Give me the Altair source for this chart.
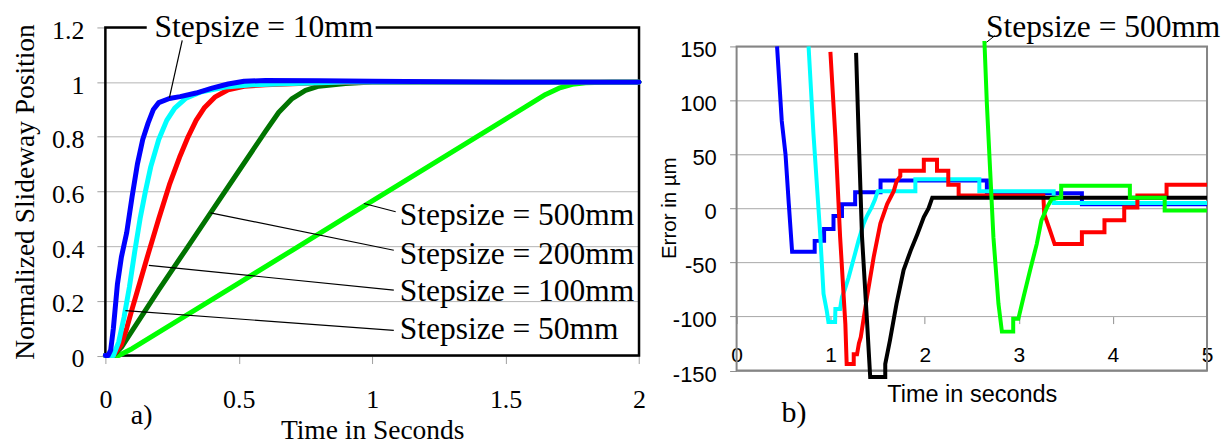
import altair as alt
import pandas as pd

SERIF = "Liberation Serif"
SANS = "Liberation Sans"

# ---------------- panel a) normalized slideway position ----------------
a_t_10 = [0, 0.01, 0.02, 0.03, 0.045, 0.06, 0.08, 0.1, 0.12, 0.14, 0.16, 0.18, 0.2, 0.24, 0.28, 0.34, 0.4, 0.46, 0.52, 0.6, 0.8, 1.0, 1.5, 2.0]
a_v_10 = [0, 0.0, 0.02, 0.1, 0.26, 0.36, 0.45, 0.58, 0.70, 0.79, 0.85, 0.90, 0.925, 0.94, 0.947, 0.96, 0.978, 0.993, 1.003, 1.006, 1.005, 1.003, 1.0, 1.0]
a_t_50 = [0, 0.03, 0.05, 0.07, 0.09, 0.11, 0.13, 0.15, 0.17, 0.2, 0.23, 0.26, 0.3, 0.36, 0.45, 0.55, 0.7, 0.9, 2.0]
a_v_50 = [0, 0.0, 0.05, 0.14, 0.25, 0.38, 0.5, 0.6, 0.69, 0.79, 0.86, 0.905, 0.94, 0.965, 0.982, 0.99, 0.995, 1.0, 1.0]
a_t_100 = [0, 0.03, 0.06, 0.08, 0.1, 0.13, 0.16, 0.2, 0.24, 0.28, 0.31, 0.34, 0.37, 0.41, 0.46, 0.52, 0.6, 0.8, 1.0, 2.0]
a_v_100 = [0, 0.0, 0.04, 0.1, 0.17, 0.27, 0.37, 0.5, 0.625, 0.73, 0.8, 0.86, 0.905, 0.945, 0.972, 0.985, 0.99, 0.998, 1.0, 1.0]
a_t_200 = [0, 0.03, 0.06, 0.1, 0.2, 0.3, 0.4, 0.5, 0.6, 0.65, 0.7, 0.75, 0.8, 0.9, 1.0, 2.0]
a_v_200 = [0, 0.0, 0.03, 0.09, 0.24, 0.385, 0.53, 0.675, 0.82, 0.89, 0.94, 0.97, 0.985, 0.995, 1.0, 1.0]
a_t_500 = [0, 0.05, 0.1, 0.3, 0.5, 0.7, 0.9, 1.1, 1.3, 1.5, 1.6, 1.65, 1.7, 1.75, 1.8, 1.9, 2.0]
a_v_500 = [0, 0.0, 0.025, 0.145, 0.265, 0.385, 0.505, 0.625, 0.745, 0.865, 0.925, 0.955, 0.978, 0.992, 0.998, 1.0, 1.0]

a_x_ticks = [0, 0.5, 1, 1.5, 2]
a_y_ticks = [0, 0.2, 0.4, 0.6, 0.8, 1, 1.2]

a_labels = ["Stepsize = 500mm", "Stepsize = 200mm", "Stepsize = 100mm", "Stepsize = 50mm"]
a_label_t = [1.1035, 1.1035, 1.1035, 1.1035]
a_label_v = [0.476, 0.336, 0.200, 0.062]
# pointer lines: from curve point to label
a_ptr_t1 = [0.969, 0.394, 0.163, 0.075, 0.288]
a_ptr_v1 = [0.556, 0.522, 0.330, 0.164, 1.153]
a_ptr_t2 = [1.088, 1.081, 1.081, 1.081, 0.240]
a_ptr_v2 = [0.526, 0.385, 0.239, 0.092, 0.943]

a_top_label = "Stepsize = 10mm"
a_top_t = 0.594
a_top_v = 1.165

# ---------------- panel b) error ----------------
b_t_10 = [0.43, 0.48, 0.52, 0.555, 0.59, 0.83, 0.83, 0.93, 0.93, 1.03, 1.03, 1.12, 1.12, 1.26, 1.26, 1.53, 1.53, 2.66, 2.66, 3.67, 3.67, 5.0]
b_e_10 = [150, 81, 50, 4, -40, -40, -30, -30, -19, -19, -7, -7, 4, 4, 15, 15, 26, 26, 14, 14, 4, 4]
b_t_50 = [0.765, 0.817, 0.888, 0.924, 0.959, 0.976, 1.047, 1.05, 1.1, 1.12, 1.15, 1.19, 1.24, 1.295, 1.35, 1.385, 1.435, 1.47, 1.5, 1.9, 1.9, 2.58, 2.58, 3.37, 3.37, 5.0]
b_e_50 = [150, 69, -23, -79, -95, -105, -105, -93, -93, -82, -75, -64, -48, -30, -14, -7, 1, 8, 16, 16, 27, 27, 16, 16, 5, 5]
b_t_100 = [0.997, 1.05, 1.10, 1.156, 1.17, 1.245, 1.245, 1.28, 1.30, 1.32, 1.386, 1.457, 1.528, 1.6, 1.67, 1.70, 1.74, 1.74, 1.99, 1.99, 2.13, 2.13, 2.25, 2.25, 2.36, 2.36, 3.26, 3.27, 3.33, 3.38, 3.67, 3.67, 3.91, 3.91, 4.12, 4.12, 4.26, 4.26, 4.57, 4.57, 5.0]
b_e_100 = [145, 66, -26, -107, -144, -144, -135, -135, -125, -119, -82, -45, -14, 4, 16, 25, 30, 35, 35, 45, 45, 35, 35, 22, 22, 12, 12, -5, -20, -33, -33, -22, -22, -11, -11, 1, 1, 12, 12, 22, 22]
b_t_200 = [1.27, 1.298, 1.333, 1.386, 1.42, 1.58, 1.58, 1.63, 1.70, 1.775, 1.85, 1.92, 1.99, 2.04, 2.08, 5.0]
b_e_200 = [144, 66, -26, -104, -156, -156, -144, -122, -88, -57, -39, -24, -8, 0, 10, 10]
b_t_500 = [2.634, 2.66, 2.695, 2.73, 2.783, 2.82, 2.94, 2.94, 2.995, 3.05, 3.12, 3.19, 3.24, 3.3, 3.35, 3.45, 3.45, 4.18, 4.18, 4.55, 4.55, 5.0]
b_e_500 = [155, 97, 35, -27, -88, -114, -114, -102, -102, -82, -57, -33, -11, 1, 9, 10, 21, 21, 10, 10, -2, -2]

b_x_ticks = [0, 1, 2, 3, 4, 5]
b_y_ticks = [-150, -100, -50, 0, 50, 100, 150]

b_label = "Stepsize = 500mm"
b_label_t = 3.896
b_label_e = 158.5
b_ptr = [2.746, 160.0, 2.657, 153.9]


def line_df(ts, vs):
    return pd.DataFrame({"t": ts, "v": vs, "i": list(range(len(ts)))})


# ---------------- build panel a ----------------
AW, AH = 534.3, 328.5
ax = alt.X("t:Q", scale=alt.Scale(domain=[0, 2], nice=False, zero=False),
           axis=alt.Axis(values=a_x_ticks, format="~g", grid=False, domain=False,
                         tickColor="#a0a0a0", tickSize=8, labelFont=SERIF, labelFontSize=26,
                         labelBaseline="alphabetic", labelPadding=44, labelFlush=False,
                         title="Time in Seconds", titleFont=SERIF, titleFontSize=27.5,
                         titleFontWeight="normal", titleBaseline="alphabetic",
                         titleAlign="center", titleX=AW / 2, titleY=83.3))
ay = alt.Y("v:Q", scale=alt.Scale(domain=[0, 1.2], nice=False, zero=False),
           axis=alt.Axis(values=a_y_ticks, format="~g", grid=True, gridColor="#b4b4b4",
                         domain=False, tickColor="#a0a0a0", tickSize=8.5, labelFont=SERIF,
                         labelFontSize=26, labelPadding=13, labelOffset=3,
                         title="Normalized Slideway Position", titleFont=SERIF,
                         titleFontSize=27.5, titleFontWeight="normal",
                         titleBaseline="alphabetic", titleAlign="center", titleAngle=270,
                         titleX=-72, titleY=AH / 2))

a_frame = alt.Chart(pd.DataFrame({"t": [0], "t2": [2], "v": [0], "v2": [1.2]})).mark_rect(
    fillOpacity=0, stroke="black", strokeWidth=2.5).encode(
    x=ax, x2="t2:Q", y=ay, y2="v2:Q")

a_series = [
    (a_t_500, a_v_500, "#00ff00"),
    (a_t_200, a_v_200, "#007400"),
    (a_t_100, a_v_100, "#ff0000"),
    (a_t_50, a_v_50, "#00ffff"),
    (a_t_10, a_v_10, "#0000ff"),
]
a_lines = [
    alt.Chart(line_df(ts, vs)).mark_line(color=c, strokeWidth=5, strokeCap="round",
                                         strokeJoin="round").encode(
        x=ax, y=ay, order="i:Q")
    for ts, vs, c in a_series
]

a_ptr = alt.Chart(pd.DataFrame({"t": a_ptr_t1, "v": a_ptr_v1, "t2": a_ptr_t2, "v2": a_ptr_v2})).mark_rule(
    color="black", strokeWidth=1.2).encode(x=ax, y=ay, x2="t2:Q", y2="v2:Q")

a_gap = alt.Chart(pd.DataFrame({"t": [0.155], "t2": [1.013], "v": [1.2]})).mark_rule(
    color="white", strokeWidth=6).encode(x=ax, x2="t2:Q", y=ay)

a_text = alt.Chart(pd.DataFrame({"t": a_label_t, "v": a_label_v, "label": a_labels})).mark_text(
    font=SERIF, fontSize=31.5, align="left", baseline="alphabetic", color="black").encode(
    x=ax, y=ay, text="label:N")

a_top = alt.Chart(pd.DataFrame({"t": [a_top_t], "v": [a_top_v], "label": [a_top_label]})).mark_text(
    font=SERIF, fontSize=31.5, align="center", baseline="alphabetic", color="black").encode(
    x=ax, y=ay, text="label:N")

a_tag = alt.Chart(pd.DataFrame({"t": [0.095], "v": [-0.252], "label": ["a)"]})).mark_text(
    font=SERIF, fontSize=28, align="left", baseline="alphabetic", color="black").encode(
    x=ax, y=ay, text="label:N")

left = alt.layer(a_frame, *a_lines, a_ptr, a_gap, a_text, a_top, a_tag).properties(
    width=AW, height=AH)

# ---------------- build panel b ----------------
BW, BH = 471, 343.5
bx = alt.X("t:Q", scale=alt.Scale(domain=[0, 5], nice=False, zero=False),
           axis=alt.Axis(values=b_x_ticks, format="d", grid=False, domain=False, offset=-54,
                         tickColor="#909090", tickSize=7, labelFont=SANS, labelFontSize=21,
                         labelBaseline="alphabetic", labelPadding=38.3, labelFlush=False,
                         title="Time in seconds", titleFont=SANS, titleFontSize=23.5,
                         titleFontWeight="normal", titleBaseline="alphabetic",
                         titleAlign="center", titleX=BW / 2, titleY=85))
by = alt.Y("v:Q", scale=alt.Scale(domain=[-150, 150], range=[BH, 19], nice=False, zero=False),
           axis=alt.Axis(values=b_y_ticks, labelExpr="'' + datum.value", grid=True,
                         gridColor="#a8a8a8", domain=False, tickColor="#909090", tickSize=7,
                         labelFont=SANS, labelFontSize=22, labelPadding=13.3, labelOffset=3.5,
                         title="Error in µm", titleFont=SANS, titleFontSize=20.5,
                         titleFontWeight="normal", titleBaseline="alphabetic",
                         titleAlign="center", titleAngle=270, titleX=-60.7, titleY=180.5))

b_frame = alt.Chart(pd.DataFrame({"t": [0], "t2": [5], "v": [-150], "v2": [150]})).mark_rect(
    fillOpacity=0, stroke="#858585", strokeWidth=2).encode(
    x=bx, x2="t2:Q", y=by, y2="v2:Q")

b_series = [
    (b_t_10, b_e_10, "#0000ff"),
    (b_t_50, b_e_50, "#00ffff"),
    (b_t_100, b_e_100, "#ff0000"),
    (b_t_200, b_e_200, "#000000"),
    (b_t_500, b_e_500, "#00ff00"),
]
b_lines = [
    alt.Chart(line_df(ts, vs)).mark_line(color=c, strokeWidth=4, strokeJoin="miter").encode(
        x=bx, y=by, order="i:Q")
    for ts, vs, c in b_series
]

b_ptr_chart = alt.Chart(pd.DataFrame({"t": [b_ptr[0]], "v": [b_ptr[1]], "t2": [b_ptr[2]], "v2": [b_ptr[3]]})).mark_rule(
    color="black", strokeWidth=1).encode(x=bx, y=by, x2="t2:Q", y2="v2:Q")

b_text = alt.Chart(pd.DataFrame({"t": [b_label_t], "v": [b_label_e], "label": [b_label]})).mark_text(
    font=SERIF, fontSize=31.5, align="center", baseline="alphabetic", color="black").encode(
    x=bx, y=by, text="label:N")

b_tag = alt.Chart(pd.DataFrame({"t": [0.478], "v": [-197.9], "label": ["b)"]})).mark_text(
    font=SERIF, fontSize=30, align="left", baseline="alphabetic", color="black").encode(
    x=bx, y=by, text="label:N")

right = alt.layer(b_frame, *b_lines, b_ptr_chart, b_text, b_tag).properties(
    width=BW, height=BH)

chart = alt.hconcat(left, right, spacing=97, bounds="flush").properties(
    padding={"top": 3.2, "left": 2.5, "right": 0, "bottom": 0},
    background="white").configure_view(strokeWidth=0).configure_axis(
    labelColor="black", titleColor="black")

chart.save("out.html", embed_options={"renderer": "svg", "actions": False})
